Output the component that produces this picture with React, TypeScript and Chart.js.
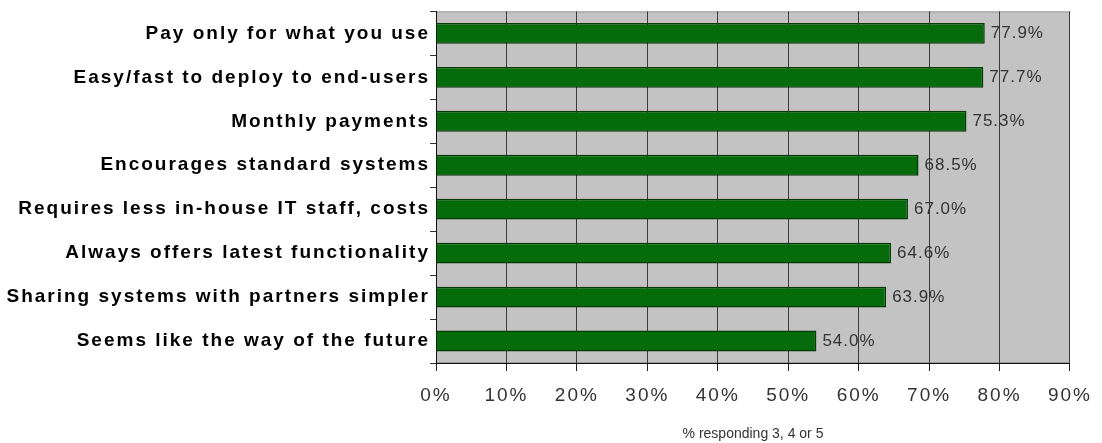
import React, { useEffect, useRef } from "react";
import { Chart, registerables } from "chart.js";

Chart.register(...registerables);

const categories = [
  "Pay only for what you use",
  "Easy/fast to deploy to end-users",
  "Monthly payments",
  "Encourages standard systems",
  "Requires less in-house IT staff, costs",
  "Always offers latest functionality",
  "Sharing systems with partners simpler",
  "Seems like the way of the future",
];
const values = [77.9, 77.7, 75.3, 68.5, 67.0, 64.6, 63.9, 54.0];
const xTickValues = [0, 10, 20, 30, 40, 50, 60, 70, 80, 90];
const xTitle = "% responding 3, 4 or 5";

const FONT = "'Liberation Sans', Arial, sans-serif";

const plotBg = {
  id: "plotBg",
  beforeDraw(chart: any) {
    const { ctx, chartArea: a } = chart;
    ctx.save();
    ctx.fillStyle = "#c3c3c3";
    ctx.fillRect(a.left, a.top, a.right - a.left, a.bottom - a.top);
    ctx.strokeStyle = "#9a9a9a";
    ctx.lineWidth = 1;
    ctx.strokeRect(a.left + 0.5, a.top + 0.5, a.right - a.left - 1, a.bottom - a.top - 1);
    ctx.restore();
  },
};

const valueLabels = {
  id: "valueLabels",
  afterDatasetsDraw(chart: any) {
    const { ctx } = chart;
    const meta = chart.getDatasetMeta(0);
    ctx.save();
    (ctx as any).letterSpacing = "1px";
    ctx.font = "17px " + FONT;
    ctx.fillStyle = "#333333";
    ctx.textAlign = "left";
    ctx.textBaseline = "middle";
    meta.data.forEach((bar: any, i: number) => {
      ctx.fillText(values[i].toFixed(1) + "%", bar.x + 6, bar.y);
    });
    ctx.restore();
    // tick labels (z: 1) are drawn after this hook, with wider spacing
    (ctx as any).letterSpacing = "2px";
  },
  afterDraw(chart: any) {
    (chart.ctx as any).letterSpacing = "0px";
  },
};

export default function App() {
  const ref = useRef<HTMLCanvasElement>(null);
  useEffect(() => {
    document.body.style.margin = "0";
    const chart = new Chart(ref.current as HTMLCanvasElement, {
      type: "bar",
      data: {
        labels: categories,
        datasets: [
          {
            data: values,
            backgroundColor: "#066b0a",
            borderColor: "#033a05",
            borderWidth: 1.5,
            barPercentage: 0.95,
            categoryPercentage: 0.5,
          },
        ],
      },
      options: {
        indexAxis: "y",
        animation: false,
        responsive: false,
        maintainAspectRatio: false,
        layout: { padding: { top: 10, right: 28, left: 0, bottom: 0 } },
        plugins: { legend: { display: false }, tooltip: { enabled: false } },
        scales: {
          x: {
            min: 0,
            max: 90,
            afterBuildTicks(scale: any) {
              scale.ticks = xTickValues.map((v) => ({ value: v }));
            },
            afterFit(scale: any) {
              scale.height = 80;
            },
            ticks: {
              z: 1,
              padding: 13,
              color: "#333333",
              font: { family: FONT, size: 19 },
              callback: (v: any) => v + "%",
              maxRotation: 0,
            },
            grid: {
              color: "#3a3a3a",
              lineWidth: 1,
              tickLength: 8,
              tickColor: "#222222",
            },
            border: { color: "#111111", width: 1 },
            title: {
              display: true,
              text: xTitle,
              color: "#333333",
              font: { family: FONT, size: 14 },
              padding: { top: 4, bottom: 0 },
            },
          },
          y: {
            afterFit(scale: any) {
              scale.width = 436;
            },
            ticks: {
              z: 1,
              padding: 0,
              color: "#000000",
              font: { family: FONT, size: 19, weight: "bold" },
            },
            grid: {
              drawOnChartArea: false,
              tickLength: 6,
              tickColor: "#333333",
              offset: true,
            },
            border: { color: "#111111", width: 1 },
          },
        },
      },
      plugins: [plotBg, valueLabels],
    });
    return () => chart.destroy();
  }, []);
  return (
    <div style={{ width: 1102, height: 443 }}>
      <canvas ref={ref} width={1102} height={443} style={{ width: 1102, height: 443 }} />
    </div>
  );
}
